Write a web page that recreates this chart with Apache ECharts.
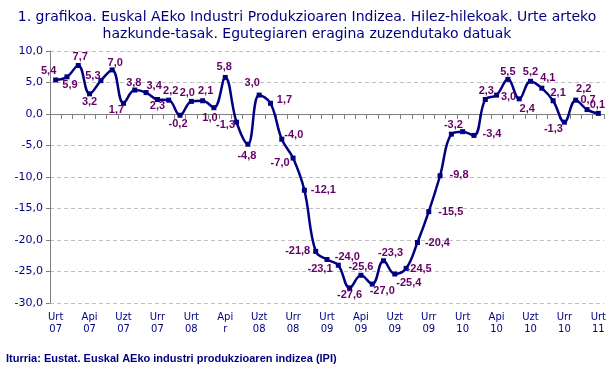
<!DOCTYPE html>
<html>
<head>
<meta charset="utf-8">
<script src="https://cdn.jsdelivr.net/npm/echarts@6/dist/echarts.min.js"></script>
<style>
  html, body { margin: 0; padding: 0; background: #fff; }
  #chart { width: 614px; height: 377px; }
</style>
</head>
<body>
<div id="chart"></div>
<script>
// urtarrila 2007 - urtarrila 2011, hilez hile
var xTickLabels = ['Urt\n07', 'Api\n07', 'Uzt\n07', 'Urr\n07', 'Urt\n08', 'Api\nr', 'Uzt\n08', 'Urr\n08',
  'Urt\n09', 'Api\n09', 'Uzt\n09', 'Urr\n09', 'Urt\n10', 'Api\n10', 'Uzt\n10', 'Urr\n10', 'Urt\n11'];

var yTicks = { min: -30, max: 10, interval: 5 };

var ipiRates = [
  5.4, 5.9, 7.7, 3.2, 5.3, 7.0, 1.7, 3.8, 3.4, 2.3, 2.2, -0.2,
  2.0, 2.1, 1.0, 5.8, -1.3, -4.8, 3.0, 1.7, -4.0, -7.0, -12.1, -21.8,
  -23.1, -24.0, -27.6, -25.6, -27.0, -23.3, -25.4, -24.5, -20.4, -15.5, -9.8, -3.2,
  -2.8, -3.4, 2.3, 3.0, 5.5, 2.4, 5.2, 4.1, 2.1, -1.3, 2.2, 0.7,
  0.1
];

// the 37th point carries no label in the original
var labelHidden = [36];

// label placement (offset from the marker), style only
var labelOffsets = [
  [-7, -9], [3, 8], [2, -9], [0, 8], [-8, -5], [3, -7], [-7, 7], [-1, -7], [8, -7], [0, 6], [2, -9], [-2, 9],
  [-4, -8], [3, -10], [-4, 10], [-1, -10], [-11, 3], [-1, 12], [-7, -12], [14, -3], [12, -4], [-13, 5], [19, 0], [-18, 0],
  [-7, 9], [9, -8], [0, 7], [0, -8], [10, 7], [7, -8], [14, 9], [13, 1], [20, 0], [22, 0], [19, -1], [2, -9],
  [0, 0], [18, -1], [1, -9], [12, 2], [0, -7], [8, 10], [0, -9], [6, -10], [5, -8], [-11, 7], [8, -11], [1, -10],
  [-1, -8]
];

var categories = [];
for (var i = 0; i < ipiRates.length; i++) {
  categories.push(String(2007 + Math.floor(i / 12)) + '-' + (i % 12 + 1));
}

function comma(v) {
  return v.toFixed(1).replace('.', ',');
}

var navy = '#000080';

var seriesData = ipiRates.map(function (v, i) {
  return {
    value: v,
    label: {
      show: labelHidden.indexOf(i) === -1,
      offset: labelOffsets[i]
    }
  };
});

var myChart = echarts.init(document.getElementById('chart'), null, { renderer: 'canvas' });

myChart.setOption({
  animation: false,
  backgroundColor: '#fff',
  title: [{
    text: '1. grafikoa. Euskal AEko Industri Produkzioaren Indizea. Hilez-hilekoak. Urte arteko\nhazkunde-tasak. Egutegiaren eragina zuzendutako datuak',
    left: 'center',
    top: 4,
    textStyle: {
      color: navy,
      fontFamily: 'DejaVu Sans',
      fontSize: 14,
      fontWeight: 'normal',
      lineHeight: 17,
      align: 'center'
    }
  }, {
    text: 'Iturria: Eustat. Euskal AEko industri produkzioaren indizea (IPI)',
    left: 1,
    top: 348,
    textStyle: {
      color: navy,
      fontFamily: 'Liberation Sans',
      fontSize: 11,
      fontWeight: 'bold'
    }
  }],
  grid: {
    left: 50,
    right: 10,
    top: 51,
    bottom: 74
  },
  xAxis: [{
    type: 'category',
    data: categories,
    boundaryGap: true,
    position: 'bottom',
    axisLine: { show: false, onZero: false },
    axisTick: { show: false },
    axisLabel: {
      interval: 2,
      margin: 8,
      color: navy,
      fontFamily: 'DejaVu Sans',
      fontSize: 10,
      lineHeight: 12,
      formatter: function (val, idx) {
        return xTickLabels[Math.round(idx / 3)];
      }
    },
    splitLine: { show: false }
  }, {
    type: 'category',
    data: categories,
    boundaryGap: true,
    position: 'bottom',
    axisLine: { show: true, onZero: true, onZeroAxisIndex: 0, lineStyle: { color: '#808080', width: 1 } },
    axisTick: { show: true, interval: 0, length: 5, lineStyle: { color: '#808080' } },
    axisLabel: { show: false },
    splitLine: { show: false }
  }],
  yAxis: {
    type: 'value',
    min: yTicks.min,
    max: yTicks.max,
    interval: yTicks.interval,
    axisLine: { show: true, lineStyle: { color: '#808080' } },
    axisTick: { show: true, length: 4, lineStyle: { color: '#808080' } },
    axisLabel: {
      margin: 7,
      color: navy,
      fontFamily: 'DejaVu Sans',
      fontSize: 11,
      formatter: function (v) { return comma(v); }
    },
    splitLine: {
      show: true,
      lineStyle: { color: '#c0c0c0', type: [4, 3], width: 1 }
    }
  },
  series: [{
    name: 'IPI',
    type: 'line',
    xAxisIndex: 0,
    data: seriesData,
    smooth: 0.4,
    symbol: 'rect',
    symbolSize: 5,
    lineStyle: { color: navy, width: 2.5 },
    itemStyle: { color: navy },
    label: {
      show: true,
      position: 'inside',
      color: '#660066',
      fontFamily: 'Liberation Sans',
      fontSize: 11,
      fontWeight: 'bold',
      formatter: function (p) { return comma(p.value); }
    },
    z: 3
  }]
});
</script>
</body>
</html>
